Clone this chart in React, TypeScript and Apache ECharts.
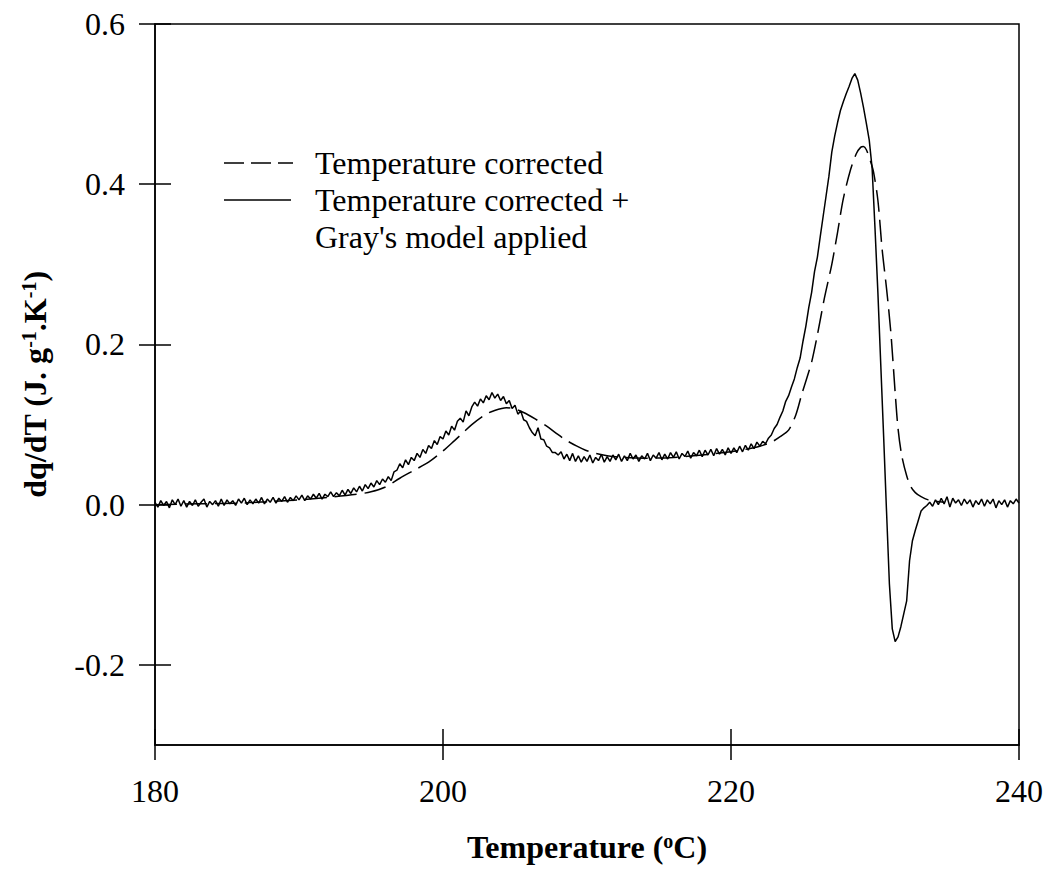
import React, { useEffect, useRef } from "react";
import * as echarts from "echarts";

const FONT = "Liberation Serif";

// Axis ticks
const xTicks = [180, 200, 220, 240];
const yTicks = [-0.2, 0.0, 0.2, 0.4, 0.6];

// Solid curve: "Temperature corrected + Gray's model applied"
// sampled every 0.2 °C from 180 °C
const grayStartT = 180;
const grayStepT = 0.2;
const grayValues = [
  0.003, -0.003, 0.005, -0.001, 0.004, -0.004, 0.006, 0.000, 0.007, -0.002,
  0.005, -0.003, 0.004, -0.001, 0.006, -0.002, 0.003, 0.007, -0.003, 0.004,
  0.000, 0.005, -0.002, 0.007, -0.001, 0.006, 0.001, 0.005, -0.001, 0.007,
  0.002, 0.008, 0.000, 0.006, 0.001, 0.007, 0.002, 0.009, 0.001, 0.007,
  0.003, 0.009, 0.002, 0.008, 0.004, 0.010, 0.003, 0.009, 0.005, 0.011,
  0.006, 0.012, 0.005, 0.011, 0.007, 0.013, 0.008, 0.014, 0.007, 0.013,
  0.010, 0.016, 0.010, 0.015, 0.011, 0.018, 0.012, 0.019, 0.014, 0.021,
  0.016, 0.023, 0.017, 0.025, 0.020, 0.027, 0.022, 0.030, 0.025, 0.032,
  0.028, 0.035, 0.030, 0.041, 0.043, 0.051, 0.046, 0.056, 0.050, 0.059,
  0.055, 0.064, 0.059, 0.069, 0.064, 0.074, 0.070, 0.080, 0.075, 0.085,
  0.082, 0.092, 0.087, 0.098, 0.093, 0.104, 0.108, 0.103, 0.117, 0.111,
  0.122, 0.128, 0.123, 0.132, 0.127, 0.136, 0.131, 0.140, 0.133, 0.138,
  0.130, 0.135, 0.126, 0.130, 0.120, 0.124, 0.113, 0.117, 0.106, 0.104,
  0.096, 0.090, 0.086, 0.096, 0.082, 0.081, 0.073, 0.071, 0.065, 0.065,
  0.062, 0.066, 0.057, 0.063, 0.055, 0.064, 0.054, 0.061, 0.053, 0.060,
  0.054, 0.062, 0.052, 0.059, 0.055, 0.063, 0.053, 0.060, 0.054, 0.062,
  0.056, 0.063, 0.054, 0.061, 0.055, 0.064, 0.057, 0.062, 0.054, 0.061,
  0.057, 0.064, 0.055, 0.062, 0.058, 0.065, 0.056, 0.063, 0.057, 0.065,
  0.059, 0.066, 0.057, 0.064, 0.060, 0.067, 0.058, 0.065, 0.061, 0.068,
  0.060, 0.068, 0.062, 0.069, 0.061, 0.070, 0.063, 0.069, 0.062, 0.071,
  0.064, 0.071, 0.065, 0.073, 0.066, 0.074, 0.068, 0.076, 0.070, 0.078,
  0.073, 0.079, 0.076, 0.083, 0.087, 0.095, 0.100, 0.109, 0.117, 0.129,
  0.136, 0.147, 0.157, 0.171, 0.183, 0.204, 0.223, 0.246, 0.265, 0.291,
  0.309, 0.335, 0.360, 0.385, 0.410, 0.440, 0.460, 0.477, 0.492, 0.503,
  0.513, 0.522, 0.532, 0.538, 0.530, 0.514, 0.496, 0.476, 0.455, 0.420,
  0.345, 0.265, 0.175, 0.085, -0.008, -0.099, -0.155, -0.171, -0.165, -0.152,
  -0.136, -0.120, -0.070, -0.045, -0.032, -0.020, -0.008, -0.004, -0.001, 0.003,
  -0.002, 0.006, 0.000, 0.008, 0.001, 0.010, -0.003, 0.008, 0.002, 0.006,
  -0.001, 0.007, 0.001, 0.006, -0.003, 0.005, 0.000, 0.007, -0.002, 0.006,
  0.001, 0.007, -0.004, 0.005, 0.000, 0.006, -0.003, 0.005, 0.001, 0.007,
  0.002,
];

// Dashed curve: "Temperature corrected"
const corrTemps = [
  180, 183, 186, 188, 190, 192, 194, 195, 196, 197, 198, 199, 200, 200.8, 201.4,
  202, 202.9, 203.5, 204.4, 204.9, 205.6, 206.4, 207.2, 207.8, 208.5, 209.3,
  209.9, 210.6, 211.4, 212.5, 214, 216, 218, 220, 221, 222, 222.8, 223.5, 224,
  224.5, 224.9, 225.3, 225.6, 226, 226.5, 227, 227.4, 227.8, 228.3, 228.7, 229,
  229.2, 229.4, 229.7, 229.9, 230.2, 230.5, 230.8, 231.1, 231.4, 231.6, 231.85,
  232.2, 232.5, 232.8, 233.2, 233.7, 234.3, 234.8,
];
const corrValues = [
  0.0, 0.001, 0.002, 0.004, 0.006, 0.009, 0.013, 0.016, 0.022, 0.033, 0.043,
  0.053, 0.067, 0.08, 0.09, 0.1, 0.112, 0.117, 0.121, 0.12, 0.115, 0.107,
  0.098, 0.09, 0.081, 0.073, 0.068, 0.064, 0.061, 0.059, 0.058, 0.059, 0.062,
  0.066, 0.069, 0.073, 0.078, 0.086, 0.093, 0.112, 0.137, 0.16, 0.178, 0.212,
  0.259, 0.3, 0.34, 0.382, 0.418, 0.438, 0.446, 0.447, 0.443, 0.428, 0.415,
  0.38, 0.318, 0.27, 0.215, 0.14, 0.095, 0.062, 0.036, 0.022, 0.015, 0.01,
  0.006, 0.004, 0.003,
];

const legendLabels = [
  "Temperature corrected",
  "Temperature corrected +",
  "Gray's model applied",
];

const xTitle = "{b|Temperature (}{s|o}{b|C)}";
const yTitle = "{b|dq/dT (J. g}{s|-1}{b|.K}{s|-1}{b|)}";

export default function App() {
  const ref = useRef<HTMLDivElement>(null);

  useEffect(() => {
    if (!ref.current) return;
    const chart = echarts.init(ref.current, undefined, { renderer: "svg" });

    const grayData = grayValues.map((v, i) => [
      +(grayStartT + i * grayStepT).toFixed(1),
      v,
    ]);
    const corrData = corrTemps.map((t, i) => [t, corrValues[i]]);

    const black = "#000";
    const lineW = 1.5;
    const richTitle = {
      b: { fontFamily: FONT, fontSize: 32, fontWeight: "bold", color: black },
      s: {
        fontFamily: FONT,
        fontSize: 20,
        fontWeight: "bold",
        color: black,
        verticalAlign: "top",
      },
    };
    const textStyle = {
      font: "32px 'Liberation Serif', serif",
      fontFamily: FONT,
      fontSize: 32,
      fill: black,
      verticalAlign: "middle",
    };

    chart.setOption({
      animation: false,
      backgroundColor: "#fff",
      textStyle: { fontFamily: FONT },
      grid: {
        left: 155,
        top: 24,
        width: 864,
        height: 721,
        show: true,
        borderColor: black,
        borderWidth: lineW,
        backgroundColor: "transparent",
      },
      xAxis: [
        {
          type: "value",
          min: 180,
          max: 240,
          interval: 20,
          position: "bottom",
          axisLine: { show: true, onZero: false, lineStyle: { color: black, width: lineW } },
          axisTick: {
            show: true,
            inside: true,
            length: 16,
            customValues: xTicks,
            lineStyle: { color: black, width: lineW },
          },
          axisLabel: {
            color: black,
            fontSize: 32,
            fontFamily: FONT,
            margin: 30,
            customValues: xTicks,
          },
          splitLine: { show: false },
          name: xTitle,
          nameLocation: "middle",
          nameGap: 86,
          nameTextStyle: { rich: richTitle },
        },
        {
          type: "value",
          min: 180,
          max: 240,
          interval: 20,
          position: "bottom",
          axisLine: { show: false, onZero: false },
          axisTick: {
            show: true,
            inside: false,
            length: 15,
            customValues: xTicks,
            lineStyle: { color: black, width: lineW },
          },
          axisLabel: { show: false },
          splitLine: { show: false },
        },
      ],
      yAxis: [
        {
          type: "value",
          min: -0.3,
          max: 0.6,
          position: "left",
          axisLine: { show: true, onZero: false, lineStyle: { color: black, width: lineW } },
          axisTick: {
            show: true,
            inside: false,
            length: 16,
            customValues: yTicks,
            lineStyle: { color: black, width: lineW },
          },
          axisLabel: {
            color: black,
            fontSize: 32,
            fontFamily: FONT,
            margin: 30,
            customValues: yTicks,
            formatter: (v: number) => v.toFixed(1),
          },
          splitLine: { show: false },
          name: yTitle,
          nameLocation: "middle",
          nameGap: 104,
          nameTextStyle: { rich: richTitle },
        },
        {
          type: "value",
          min: -0.3,
          max: 0.6,
          position: "left",
          axisLine: { show: false, onZero: false },
          axisTick: {
            show: true,
            inside: true,
            length: 16,
            customValues: yTicks,
            lineStyle: { color: black, width: lineW },
          },
          axisLabel: { show: false },
          splitLine: { show: false },
        },
      ],
      series: [
        {
          name: legendLabels[0],
          type: "line",
          data: corrData,
          showSymbol: false,
          smooth: 0.3,
          lineStyle: { color: black, width: lineW, type: [22, 8] },
          z: 2,
        },
        {
          name: legendLabels[1] + " " + legendLabels[2],
          type: "line",
          data: grayData,
          showSymbol: false,
          lineStyle: { color: black, width: lineW },
          z: 3,
        },
      ],
      graphic: [
        {
          type: "line",
          shape: { x1: 224, y1: 163, x2: 293, y2: 163 },
          style: { stroke: black, lineWidth: lineW, lineDash: [20, 7] },
        },
        {
          type: "text",
          x: 315,
          y: 163,
          style: { ...textStyle, text: legendLabels[0] },
        },
        {
          type: "line",
          shape: { x1: 224, y1: 200, x2: 291, y2: 200 },
          style: { stroke: black, lineWidth: lineW },
        },
        {
          type: "text",
          x: 315,
          y: 200,
          style: { ...textStyle, text: legendLabels[1] },
        },
        {
          type: "text",
          x: 315,
          y: 237,
          style: { ...textStyle, text: legendLabels[2] },
        },
      ],
    });

    return () => chart.dispose();
  }, []);

  return (
    <div
      ref={ref}
      style={{ position: "fixed", left: 0, top: 0, width: 1048, height: 876 }}
    />
  );
}
